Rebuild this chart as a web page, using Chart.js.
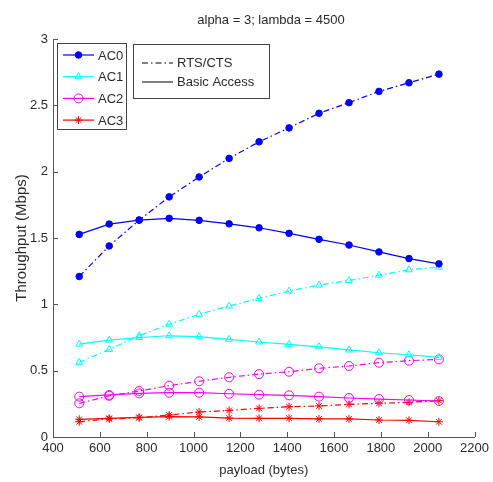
<!DOCTYPE html>
<html>
<head>
<meta charset="utf-8">
<script src="https://cdn.jsdelivr.net/npm/chart.js@4.4.1/dist/chart.umd.min.js"></script>
<style>
html, body { margin: 0; padding: 0; background: #fff; }
</style>
</head>
<body>
<canvas id="myChart" width="493" height="482"></canvas>
<script>
"use strict";

// payload sizes (bytes)
const payload = [512, 640, 768, 896, 1024, 1152, 1280, 1408, 1536, 1664, 1792, 1920, 2048];

// throughput (Mbps), RTS/CTS vs basic access
const ac0Rts   = [1.21, 1.44, 1.635, 1.81, 1.96, 2.10, 2.225, 2.33, 2.44, 2.52, 2.605, 2.67, 2.735];
const ac0Basic = [1.527, 1.605, 1.635, 1.648, 1.633, 1.607, 1.577, 1.535, 1.49, 1.447, 1.395, 1.345, 1.305];
const ac1Rts   = [0.563, 0.66, 0.763, 0.85, 0.925, 0.987, 1.045, 1.10, 1.145, 1.18, 1.22, 1.26, 1.28];
const ac1Basic = [0.70, 0.73, 0.75, 0.763, 0.756, 0.736, 0.716, 0.698, 0.68, 0.656, 0.635, 0.62, 0.60];
const ac2Rts   = [0.254, 0.31, 0.347, 0.387, 0.42, 0.45, 0.474, 0.492, 0.518, 0.535, 0.56, 0.575, 0.585];
const ac2Basic = [0.304, 0.317, 0.329, 0.334, 0.334, 0.326, 0.319, 0.314, 0.304, 0.294, 0.286, 0.279, 0.271];
const ac3Rts   = [0.115, 0.136, 0.145, 0.166, 0.188, 0.20, 0.216, 0.228, 0.234, 0.246, 0.254, 0.261, 0.274];
const ac3Basic = [0.133, 0.141, 0.148, 0.153, 0.151, 0.143, 0.141, 0.141, 0.136, 0.136, 0.128, 0.126, 0.115];

const xTicks = [400, 600, 800, 1000, 1200, 1400, 1600, 1800, 2000, 2200];
const yTicks = [0, 0.5, 1, 1.5, 2, 2.5, 3];

const acNames  = ['AC0', 'AC1', 'AC2', 'AC3'];
const acColors = ['#0000ff', '#00ffff', '#ff00ff', '#ff0000'];
const acMarks  = ['circle', 'triangle', 'circle', 'star'];
const acFill   = [true, false, false, false];
const acRadius = [3.3, 4, 4.5, 4];

const FONT = "'Liberation Sans Narrow', 'Liberation Sans', Arial, sans-serif";
const TXT = '#2a2a2a';
const AXIS = '#555';
const DASHDOT = [6, 3, 1.5, 3];

function pts(ys) {
  return payload.map(function (x, i) { return { x: x, y: ys[i] }; });
}

function ds(i, ys, dashed) {
  return {
    label: acNames[i] + (dashed ? ' RTS/CTS' : ' Basic'),
    data: pts(ys),
    borderColor: acColors[i],
    borderWidth: 1.2,
    borderDash: dashed ? DASHDOT : [],
    pointStyle: acMarks[i],
    pointRadius: acRadius[i],
    pointBorderColor: acColors[i],
    pointBackgroundColor: acFill[i] ? acColors[i] : 'rgba(0,0,0,0)',
    pointBorderWidth: 1,
    tension: 0
  };
}

const datasets = [
  ds(0, ac0Rts, true), ds(0, ac0Basic, false),
  ds(1, ac1Rts, true), ds(1, ac1Basic, false),
  ds(2, ac2Rts, true), ds(2, ac2Basic, false),
  ds(3, ac3Rts, true), ds(3, ac3Basic, false)
];

// inward ticks, title and the two legend boxes
const decor = {
  id: 'decor',
  afterDraw: function (chart) {
    const ctx = chart.ctx;
    const a = chart.chartArea;
    const xs = chart.scales.x, ys = chart.scales.y;
    ctx.save();
    ctx.strokeStyle = AXIS;
    ctx.lineWidth = 1;
    ctx.beginPath();
    xTicks.forEach(function (v) {
      const px = Math.round(xs.getPixelForValue(v)) + 0.5;
      ctx.moveTo(px, a.bottom);
      ctx.lineTo(px, a.bottom - 5);
    });
    yTicks.forEach(function (v) {
      const py = Math.round(ys.getPixelForValue(v)) + 0.5;
      ctx.moveTo(a.left, py);
      ctx.lineTo(a.left + 5, py);
    });
    ctx.stroke();

    // title
    ctx.fillStyle = TXT;
    ctx.font = '13px ' + FONT;
    ctx.textAlign = 'center';
    ctx.textBaseline = 'middle';
    ctx.fillText('alpha = 3; lambda = 4500', 271, 20);

    // legend 1
    ctx.fillStyle = '#fff';
    ctx.fillRect(57, 43, 70, 87);
    ctx.strokeStyle = '#444';
    ctx.strokeRect(57.5, 43.5, 69, 86);
    ctx.font = '13px ' + FONT;
    ctx.textAlign = 'left';
    for (let i = 0; i < 4; i++) {
      const y = 55 + i * 21.7;
      ctx.strokeStyle = acColors[i];
      ctx.lineWidth = 1.2;
      ctx.beginPath();
      ctx.moveTo(63, y);
      ctx.lineTo(94, y);
      ctx.stroke();
      ctx.fillStyle = acFill[i] ? acColors[i] : 'rgba(0,0,0,0)';
      ctx.lineWidth = 1;
      Chart.helpers.drawPoint(ctx, { pointStyle: acMarks[i], radius: acRadius[i], rotation: 0, borderWidth: 1 }, 78.5, y);
      ctx.fillStyle = TXT;
      ctx.fillText(acNames[i], 98, y + 1);
    }

    // legend 2
    ctx.fillStyle = '#fff';
    ctx.fillRect(133, 44, 137, 55);
    ctx.strokeStyle = '#444';
    ctx.lineWidth = 1;
    ctx.strokeRect(133.5, 44.5, 136, 54);
    ctx.strokeStyle = '#000';
    ctx.beginPath();
    ctx.setLineDash(DASHDOT);
    ctx.moveTo(142, 63);
    ctx.lineTo(173, 63);
    ctx.stroke();
    ctx.setLineDash([]);
    ctx.beginPath();
    ctx.moveTo(142, 82);
    ctx.lineTo(173, 82);
    ctx.stroke();
    ctx.fillStyle = TXT;
    ctx.fillText('RTS/CTS', 177, 63);
    ctx.fillText('Basic Access', 177, 82);
    ctx.restore();
  }
};

var ctx = document.getElementById('myChart').getContext('2d');
window.myChart = new Chart(ctx, {
  type: 'line',
  data: { datasets: datasets },
  options: {
    responsive: false,
    animation: false,
    layout: { padding: { top: 39, right: 16, bottom: 0, left: 0 } },
    plugins: {
      legend: { display: false },
      title: { display: false },
      tooltip: { enabled: false }
    },
    scales: {
      x: {
        type: 'linear',
        min: 400,
        max: 2200,
        afterFit: function (s) { s.height = 45; },
        grid: { drawOnChartArea: false, drawTicks: false },
        border: { display: true, color: AXIS, width: 1 },
        ticks: {
          stepSize: 200,
          padding: 4,
          color: TXT,
          font: { family: FONT, size: 13 },
          maxRotation: 0,
          autoSkip: false,
          callback: function (v) { return String(v); }
        },
        title: {
          display: true,
          text: 'payload (bytes)',
          color: TXT,
          font: { family: FONT, size: 13 },
          padding: { top: 0, bottom: 4 }
        }
      },
      y: {
        type: 'linear',
        min: 0,
        max: 3,
        afterFit: function (s) { s.width = 53; },
        grid: { drawOnChartArea: false, drawTicks: false },
        border: { display: true, color: AXIS, width: 1 },
        ticks: {
          stepSize: 0.5,
          padding: 5,
          color: TXT,
          font: { family: FONT, size: 13 },
          callback: function (v) { return String(v); }
        },
        title: {
          display: true,
          text: 'Throughput (Mbps)',
          color: TXT,
          font: { family: FONT, size: 15 },
          padding: { top: 13, bottom: 0 }
        }
      }
    }
  },
  plugins: [decor]
});
</script>
</body>
</html>
